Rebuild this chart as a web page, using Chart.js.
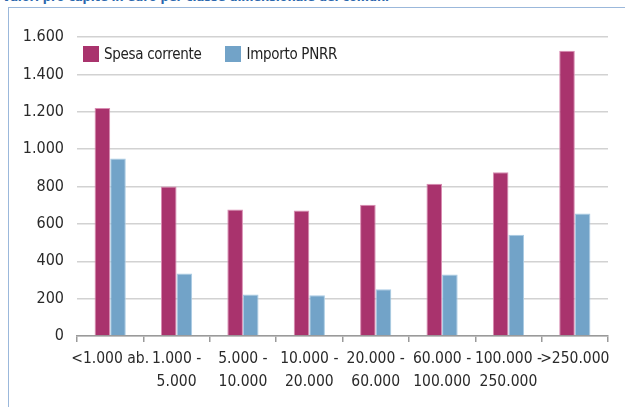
<!DOCTYPE html>
<html>
<head>
<meta charset="utf-8">
<script src="https://cdn.jsdelivr.net/npm/chart.js@4.4.1/dist/chart.umd.min.js"></script>
<style>
  html, body { margin: 0; padding: 0; background: #fff; }
  #wrap { position: relative; width: 625px; height: 407px; overflow: hidden; }
  #title {
    position: absolute; left: 2px; top: -10px; white-space: nowrap;
    font: bold 13px 'DejaVu Sans Condensed', sans-serif;
    color: #2b67ad; line-height: 14px; letter-spacing: -0.2px;
  }
  #frame {
    position: absolute; left: 8px; top: 7px; width: 640px; height: 420px;
    border-left: 1.5px solid #9bb8db; border-top: 1.5px solid #9bb8db;
  }
  #legend {
    position: absolute; left: 83px; top: 45px; display: flex;
    font: 15px 'DejaVu Sans Condensed', sans-serif; color: #222; letter-spacing: -0.3px;
  }
  #legend .item { display: flex; align-items: center; }
  #legend .box { width: 16px; height: 16px; margin-right: 5px; }
  #legend .item + .item { margin-left: 24px; }
  canvas { position: absolute; left: 0; top: 0; }
</style>
</head>
<body>
<div id="wrap">
  <div id="title">Valori pro capite in euro per classe dimensionale dei comuni</div>
  <div id="frame"></div>
  <canvas id="chart" width="625" height="407"></canvas>
  <div id="legend"></div>
</div>
<script>
var categories = [
  '<1.000 ab.',
  ['1.000 -', '5.000'],
  ['5.000 -', '10.000'],
  ['10.000 -', '20.000'],
  ['20.000 -', '60.000'],
  ['60.000 -', '100.000'],
  ['100.000 -', '250.000'],
  '>250.000'
]
var spesaCorrente = [1220, 800, 677, 672, 703, 815, 876, 1527]
var importoPnrr = [950, 334, 222, 218, 250, 329, 542, 656]
var seriesNames = ['Spesa corrente', 'Importo PNRR']
var seriesColors = ['#a9336d', '#72a3c8']
var seriesEdges = ['#d98cb2', '#a9cbe4']

var font = "'DejaVu Sans Condensed', sans-serif"

function formatIt(v) {
  return String(v).replace(/\B(?=(\d{3})+(?!\d))/g, '.')
}

var ctx = document.getElementById('chart').getContext('2d')
var chart = new Chart(ctx, {
  type: 'bar',
  data: {
    labels: categories,
    datasets: [{
      label: seriesNames[0],
      data: spesaCorrente,
      backgroundColor: seriesColors[0],
      borderColor: seriesEdges[0],
      borderWidth: 1,
      borderSkipped: 'bottom'
    }, {
      label: seriesNames[1],
      data: importoPnrr,
      backgroundColor: seriesColors[1],
      borderColor: seriesEdges[1],
      borderWidth: 1,
      borderSkipped: 'bottom'
    }]
  },
  options: {
    responsive: false,
    animation: false,
    layout: { padding: { left: 0, right: 17, top: 37, bottom: 0 } },
    datasets: { bar: { categoryPercentage: 0.47, barPercentage: 1.0 } },
    plugins: {
      legend: { display: false },
      tooltip: { enabled: false }
    },
    scales: {
      x: {
        grid: { offset: true, drawOnChartArea: false, drawTicks: true, tickLength: 6, color: '#9a9a9a', lineWidth: 1.5 },
        border: { display: true, color: '#9a9a9a', width: 1.5 },
        ticks: { color: '#2a2a2a', font: { family: font, size: 15.5, lineHeight: 1.5 }, padding: 5, maxRotation: 0, autoSkip: false },
        afterFit: function(s) { s.height = 71 }
      },
      y: {
        min: 0, max: 1600,
        grid: { color: '#d2d2d2', lineWidth: 1.5, drawTicks: false },
        border: { display: false },
        ticks: { stepSize: 200, color: '#2a2a2a', font: { family: font, size: 16 }, padding: 13,
                 callback: function(v) { return formatIt(v) } },
        afterFit: function(s) { s.width = 77 }
      }
    }
  }
})

var legend = document.getElementById('legend')
chart.data.datasets.forEach(function(ds) {
  var item = document.createElement('div')
  item.className = 'item'
  var box = document.createElement('span')
  box.className = 'box'
  box.style.background = ds.backgroundColor
  var txt = document.createElement('span')
  txt.textContent = ds.label
  item.appendChild(box)
  item.appendChild(txt)
  legend.appendChild(item)
})
</script>
</body>
</html>
